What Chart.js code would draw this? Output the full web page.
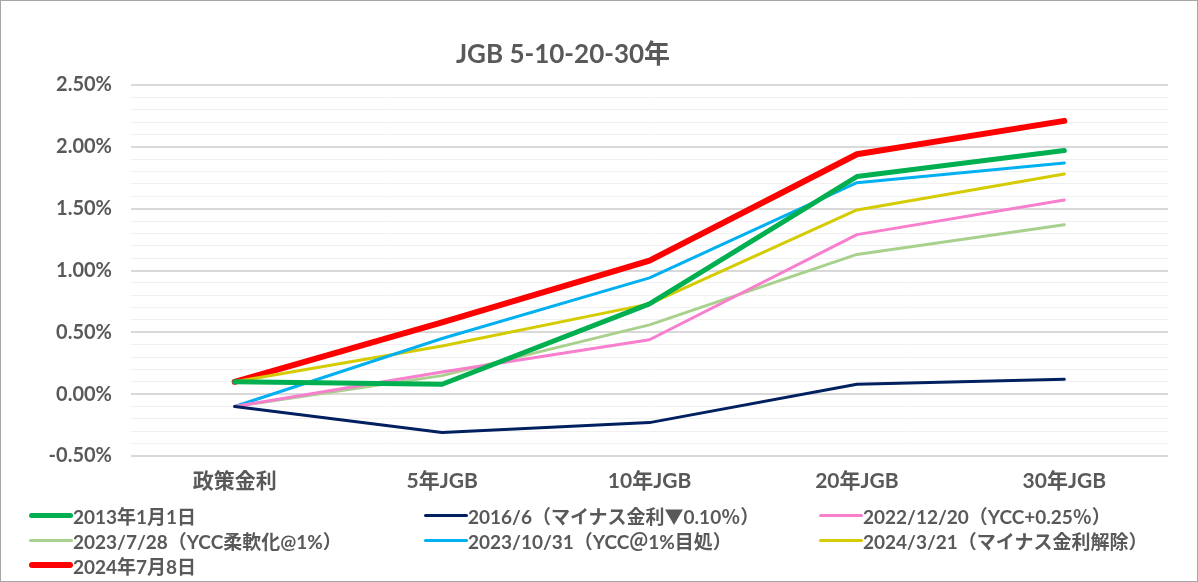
<!DOCTYPE html>
<html>
<head>
<meta charset="utf-8">
<script src="https://cdn.jsdelivr.net/npm/chart.js@4.4.1/dist/chart.umd.min.js"></script>
<style>
  body { margin: 0; background: #fff; }
  #wrap { position: relative; width: 1198px; height: 582px; box-sizing: border-box; border: 1px solid #a6a6a6; background: #fff; }
  #myChart { position: absolute; left: 0; top: 0; }
  #title { position: absolute; top: 32px; left: 562px; transform: translateX(-50%); font: bold 26px Lato, 'Noto Sans CJK JP', sans-serif; color: #595959; white-space: nowrap; }
  #legend { position: absolute; left: 0; top: 0; width: 100%; height: 100%; pointer-events: none; }
  .item { position: absolute; display: flex; align-items: center; font: bold 19px Lato, 'Noto Sans CJK JP', sans-serif; color: #595959; white-space: nowrap; }
  .swatch { width: 44px; border-radius: 3px; margin-right: 0; }
</style>
</head>
<body>
<div id="wrap">
  <canvas id="myChart" width="1196" height="580"></canvas>
  <div id="title">JGB 5-10-20-30年</div>
  <div id="legend"></div>
</div>
<script>
const categories = ['政策金利', '5年JGB', '10年JGB', '20年JGB', '30年JGB'];

const seriesNames = [
    '2013年1月1日',
    '2016/6（マイナス金利▼0.10％）',
    '2022/12/20（YCC+0.25％）',
    '2023/7/28（YCC柔軟化@1%）',
    '2023/10/31（YCC＠1%目処）',
    '2024/3/21（マイナス金利解除）',
    '2024年7月8日',
];

// yields in %
const y2013 = [0.10, 0.08, 0.73, 1.76, 1.97];
const y2016 = [-0.10, -0.31, -0.23, 0.08, 0.12];
const y2022 = [-0.10, 0.18, 0.44, 1.29, 1.57];
const y2023jul = [-0.10, 0.15, 0.56, 1.13, 1.37];
const y2023oct = [-0.10, 0.45, 0.94, 1.71, 1.87];
const y2024mar = [0.10, 0.39, 0.73, 1.49, 1.78];
const y2024jul = [0.10, 0.58, 1.08, 1.94, 2.21];

const seriesValues = [y2013, y2016, y2022, y2023jul, y2023oct, y2024mar, y2024jul];
const colors = ['#00b050', '#002060', '#f77fce', '#a9d18e', '#00b0f0', '#d4cc00', '#ff0000'];
const widths = [5, 3, 3, 3, 3, 3, 6];

const font = "Lato, 'Noto Sans CJK JP', sans-serif";

const ctx = document.getElementById('myChart');

const chart = new Chart(ctx, {
    type: 'line',
    data: {
        labels: categories,
        datasets: seriesNames.map((name, i) => ({
            label: name,
            data: seriesValues[i],
            borderColor: colors[i],
            backgroundColor: colors[i],
            borderWidth: widths[i],
            pointRadius: 0,
            tension: 0,
            borderCapStyle: 'round',
            borderJoinStyle: 'round',
        })),
    },
    options: {
        responsive: false,
        animation: false,
        devicePixelRatio: 1,
        layout: {
            padding: { top: 84, right: 29, bottom: 80, left: 0 },
        },
        plugins: {
            legend: { display: false },
            title: { display: false },
            tooltip: { enabled: false },
        },
        scales: {
            x: {
                offset: true,
                grid: { display: false, drawTicks: false },
                border: { display: false },
                ticks: {
                    padding: 13,
                    color: '#595959',
                    font: { family: font, size: 21, weight: 'bold' },
                },
                afterFit: (scale) => { scale.height = 45; },
            },
            y: {
                min: -0.5,
                max: 2.5,
                border: { display: false },
                grid: {
                    drawTicks: false,
                    color: (c) => Math.abs(Math.round(c.tick.value * 10) % 5) === 0 ? '#d9d9d9' : '#f0f0f0',
                    lineWidth: (c) => Math.abs(Math.round(c.tick.value * 10) % 5) === 0 ? 2 : 1,
                },
                ticks: {
                    stepSize: 0.1,
                    autoSkip: false,
                    padding: 19,
                    color: '#595959',
                    font: { family: font, size: 20, weight: 'bold' },
                    callback: (v) => Math.abs(Math.round(v * 10) % 5) === 0 ? v.toFixed(2) + '%' : '',
                },
                afterFit: (scale) => { scale.width = 130; },
            },
        },
    },
});

// html legend, three columns
const legendEl = document.getElementById('legend');
const colX = [28, 423, 818];
const rowY = [516, 541, 566];
chart.data.datasets.forEach((ds, i) => {
    const item = document.createElement('div');
    item.className = 'item';
    item.style.left = colX[i % 3] + 'px';
    item.style.top = (rowY[Math.floor(i / 3)] - 14) + 'px';
    item.style.height = '24px';
    const sw = document.createElement('span');
    sw.className = 'swatch';
    sw.style.background = ds.borderColor;
    sw.style.height = ds.borderWidth + 'px';
    const txt = document.createElement('span');
    txt.textContent = ds.label;
    item.appendChild(sw);
    item.appendChild(txt);
    legendEl.appendChild(item);
});
</script>
</body>
</html>
